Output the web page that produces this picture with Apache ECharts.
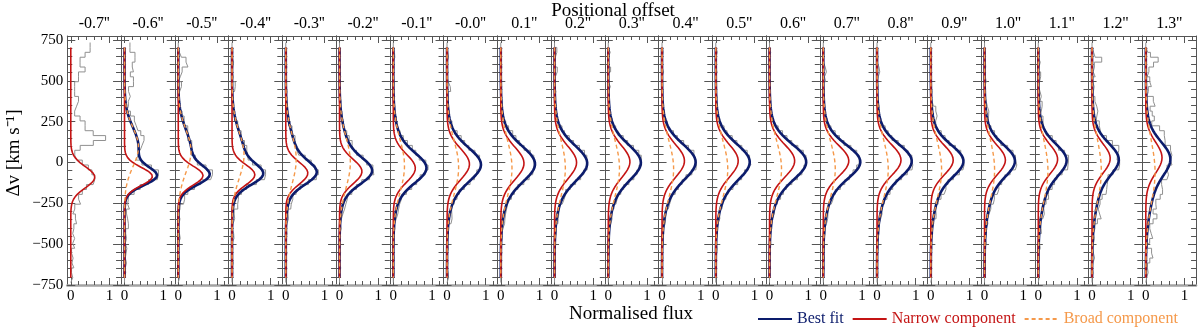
<!DOCTYPE html>
<html>
<head>
<meta charset="utf-8">
<script src="https://cdn.jsdelivr.net/npm/echarts@6/dist/echarts.min.js"></script>
<style>
  html, body { margin: 0; background: #fff; }
  #chart { width: 1200px; height: 332px; }
</style>
</head>
<body>
<div id="chart"></div>
<script>
// positional offsets (panel labels)
const offsets = ['-0.7', '-0.6', '-0.5', '-0.4', '-0.3', '-0.2', '-0.1', '-0.0', '0.1', '0.2', '0.3',
                 '0.4', '0.5', '0.6', '0.7', '0.8', '0.9', '1.0', '1.1', '1.2', '1.3'];

// gaussian components: amplitude (flux), centre and sigma (km/s)
const narrowAmp = [0.62, 0.72, 0.64, 0.59, 0.57, 0.58, 0.57, 0.58, 0.60, 0.57, 0.56, 0.58, 0.58, 0.65, 0.66, 0.62, 0.58, 0.54, 0.50, 0.47, 0.42];
const narrowCen = [-90, -85, -80, -75, -65, -55, -35, -10, -5, 0, 5, 10, 10, 10, 10, 15, 15, 15, 20, 25, 30];
const narrowSig = [65, 55, 58, 62, 68, 75, 85, 95, 100, 100, 100, 100, 100, 100, 95, 95, 90, 90, 90, 90, 95];
const broadAmp = [0, 0.36, 0.33, 0.31, 0.27, 0.28, 0.29, 0.30, 0.29, 0.28, 0.29, 0.30, 0.31, 0.31, 0.31, 0.29, 0.28, 0.26, 0.25, 0.24, 0.24];
const broadCen = [0, 95, 70, 45, 20, 0, -20, -30, -35, -35, -35, -40, -40, -40, -40, -40, -45, -45, -50, -50, -60];
const broadSig = [100, 120, 130, 140, 150, 155, 160, 165, 170, 170, 170, 170, 170, 170, 170, 175, 175, 180, 180, 185, 190];

// histogram bins (30 km/s wide) and the data minus best fit in each bin, in 0.01 flux
const binCentres = [720, 690, 660, 630, 600, 570, 540, 510, 480, 450, 420, 390, 360, 330, 300, 270, 240, 210, 180, 150,
                    120, 90, 60, 30, 0, -30, -60, -90, -120, -150, -180, -210, -240, -270, -300, -330, -360, -390, -420, -450,
                    -480, -510, -540, -570, -600, -630, -660, -690, -720];
const residuals = [
  '50 50 37 24 24 37 20 20 10 10 10 20 15 10 10 24 37 37 58 90 58 23 6 4 6 5 -1 0 2 0 6 9 21 9 5 12 15 8 5 10 5 10 2 6 3 8 2 5 0',
  '14 14 27 27 20 23 15 23 23 10 14 8 7 0 7 13 13 12 14 18 10 4 -2 -9 -3 5 7 2 -4 0 6 3 6 12 5 8 10 10 3 5 2 6 4 2 5 2 3 0 0',
  '0 3 8 20 25 10 5 0 8 3 0 2 0 -2 3 5 2 6 3 -3 4 0 -3 2 -4 3 8 5 -4 3 5 8 10 3 0 4 2 0 3 5 0 2 0 3 0 2 0 3 0',
  '0 2 0 4 2 0 3 0 8 6 0 2 0 3 0 -2 3 0 4 2 5 7 4 -3 -5 3 6 7 2 -3 2 5 9 12 4 6 2 0 4 5 0 2 0 0 3 0 2 0 0',
  '0 0 2 0 3 0 0 2 0 3 0 0 2 0 3 0 -2 4 2 5 3 0 -3 2 3 0 4 5 0 -3 2 4 6 8 3 5 2 0 3 0 2 0 3 0 0 2 0 0 0',
  '0 2 0 0 2 0 3 0 0 2 0 3 0 -2 2 3 0 2 4 6 8 5 0 3 -2 4 5 2 -3 0 3 2 5 6 4 2 0 3 0 2 0 0 2 0 0 3 0 0 0',
  '0 3 4 0 2 0 0 2 0 0 3 0 2 0 -2 2 3 0 2 4 6 7 2 -3 3 4 0 -3 2 4 3 0 2 4 5 3 0 2 0 0 2 0 0 2 0 0 2 0 0',
  '0 2 4 0 0 2 0 3 8 9 2 0 0 2 0 0 3 2 5 6 3 0 2 3 2 -2 -3 2 4 2 0 3 2 0 4 7 6 0 2 0 0 3 0 0 2 0 3 4 0',
  '0 2 0 0 3 0 0 0 2 0 0 2 0 0 2 0 2 4 7 5 2 0 3 2 -2 -3 2 4 3 0 2 3 0 2 3 4 5 2 0 2 0 0 2 0 0 0 2 0 0',
  '0 6 2 0 0 7 2 0 0 3 0 0 2 0 0 2 0 3 2 4 3 5 6 3 -2 2 0 3 2 0 -2 2 3 0 2 3 4 0 2 0 0 2 0 0 0 2 0 0 0',
  '0 5 0 0 0 6 0 0 5 0 0 2 0 0 0 2 0 2 0 3 2 4 6 4 2 -2 0 3 2 0 2 0 3 2 0 3 2 0 0 2 0 0 2 0 0 0 2 0 0',
  '0 3 0 0 0 4 0 0 0 2 0 0 0 2 0 0 2 0 3 2 5 4 6 3 2 4 2 -2 0 2 3 0 2 3 0 2 3 0 2 0 3 0 0 2 0 0 0 2 0',
  '0 4 0 0 0 3 0 0 0 0 2 0 0 0 2 0 0 3 2 4 3 2 4 2 3 0 -2 2 4 3 0 2 0 2 0 3 0 0 2 0 0 3 2 0 0 0 0 0 0',
  '0 3 0 0 0 0 2 0 0 0 0 2 0 0 0 2 0 3 5 4 2 3 4 2 0 -2 2 3 2 0 3 4 2 0 2 0 0 2 0 0 2 0 0 0 0 2 0 0 0',
  '0 2 0 0 5 8 3 6 0 2 0 0 0 2 0 0 0 2 4 3 0 2 3 0 -3 -5 -4 0 2 3 0 2 3 0 2 4 3 0 2 0 0 2 0 3 0 2 0 0 0',
  '0 0 2 0 5 7 3 0 2 0 0 0 3 0 2 0 0 3 2 0 2 3 0 2 3 6 4 2 0 3 5 4 2 0 3 2 0 0 2 0 0 2 0 0 0 0 2 0 0',
  '0 0 2 0 0 0 2 0 0 3 0 2 5 10 12 6 3 2 4 3 0 2 3 0 2 4 5 2 0 5 8 6 3 0 4 6 2 0 2 0 0 2 0 0 0 0 0 2 0',
  '0 0 0 2 3 0 2 4 0 2 0 3 5 8 6 3 0 2 4 0 -2 2 4 3 5 6 2 0 3 5 8 6 7 4 2 0 3 0 2 0 3 0 2 0 0 2 0 0 0',
  '0 3 0 5 2 0 6 3 0 4 7 3 8 5 0 6 4 2 0 5 3 -3 2 6 4 8 3 0 4 6 3 8 5 2 6 4 0 3 5 0 2 4 0 2 0 3 0 2 0',
  '0 4 8 25 6 3 8 2 5 3 0 6 10 12 8 4 9 7 3 6 10 15 2 -4 3 6 0 -3 4 10 14 8 6 4 10 16 8 3 0 4 2 0 3 6 2 0 3 0 0',
  '0 5 12 32 20 8 3 10 14 6 2 18 22 8 12 15 5 20 25 18 8 12 8 0 5 -3 8 12 6 15 20 18 10 14 8 20 12 5 10 15 8 3 14 18 10 4 6 2 0'
];

// axis extents and tick positions
const fluxMin = -0.09, fluxMax = 1.3;
const velMin = -750, velMax = 775;
const fluxMajor = [0, 1];
const fluxMinor = [0, 0.2, 0.4, 0.6, 0.8, 1, 1.2];
const velMajor = [-750, -500, -250, 0, 250, 500, 750];
const velMinor = [-750, -700, -650, -600, -550, -500, -450, -400, -350, -300, -250, -200, -150, -100, -50, 0,
                  50, 100, 150, 200, 250, 300, 350, 400, 450, 500, 550, 600, 650, 700, 750];

const font = 'Liberation Serif';
const frame = '#555';
const colBest = '#0c1c6c', colNarrow = '#c41414', colBroad = '#f5994a', colHist = '#909090';

const gauss = (a, c, s, v) => a * Math.exp(-0.5 * ((v - c) / s) ** 2);

const chart = echarts.init(document.getElementById('chart'));

const grids = [], xAxes = [], yAxes = [], series = [];
const curveV = [];
for (let v = 705; v >= -705; v -= 5) curveV.push(v);

function xAxis(i, pos, ticks, len, extra) {
  return Object.assign({
    type: 'value', gridIndex: i, position: pos, min: fluxMin, max: fluxMax,
    splitLine: { show: false },
    axisLine: { show: false, onZero: false },
    axisTick: { show: true, inside: true, length: len, customValues: ticks, lineStyle: { color: frame, width: 1 } },
    axisLabel: { show: false }
  }, extra || {});
}
function yAxis(i, pos, ticks, len, extra) {
  return Object.assign({
    type: 'value', gridIndex: i, position: pos, min: velMin, max: velMax,
    splitLine: { show: false },
    axisLine: { show: false, onZero: false },
    axisTick: { show: true, inside: true, length: len, customValues: ticks, lineStyle: { color: frame, width: 1 } },
    axisLabel: { show: false }
  }, extra || {});
}

offsets.forEach((off, i) => {
  grids.push({ left: 67.3 + i * 53.75, top: 36, width: 53.75, height: 249 });

  xAxes.push(xAxis(i, 'bottom', fluxMajor, 7, {
    axisLine: { show: true, onZero: false, lineStyle: { color: '#a3a3a3', width: 2.5 } },
    axisLabel: { show: true, customValues: fluxMajor, margin: 4, color: '#000', fontFamily: font, fontSize: 15,
                 formatter: v => String(v) }
  }));
  xAxes.push(xAxis(i, 'bottom', fluxMinor, 4));
  xAxes.push(xAxis(i, 'top', fluxMajor, 7, {
    axisLine: { show: true, onZero: false, lineStyle: { color: frame, width: 1 } },
    name: off + "''", nameLocation: 'middle', nameGap: 4,
    nameTextStyle: { color: '#000', fontFamily: font, fontSize: 16 }
  }));
  xAxes.push(xAxis(i, 'top', fluxMinor, 4));

  yAxes.push(yAxis(i, 'left', velMajor, 8, {
    axisLine: { show: true, onZero: false, lineStyle: { color: frame, width: 1 } },
    axisLabel: { show: i === 0, customValues: velMajor, margin: 4, color: '#000', fontFamily: font, fontSize: 15,
                 formatter: v => (v < 0 ? '\u2212' + (-v) : String(v)) }
  }));
  yAxes.push(yAxis(i, 'left', velMinor, 5));
  yAxes.push(yAxis(i, 'right', velMajor, 8, {
    axisLine: { show: true, onZero: false, lineStyle: { color: frame, width: 1 } }
  }));
  yAxes.push(yAxis(i, 'right', velMinor, 5));

  const narrow = v => gauss(narrowAmp[i], narrowCen[i], narrowSig[i], v);
  const broad = v => gauss(broadAmp[i], broadCen[i], broadSig[i], v);
  const best = v => narrow(v) + broad(v);

  // histogram drawn as a vertical step line
  const res = residuals[i].trim().split(/\s+/).map(Number);
  const steps = [];
  binCentres.forEach((v, k) => {
    const f = Math.max(0, best(v) + res[k] / 100);
    steps.push([f, v + 15], [f, v - 15]);
  });

  const base = { type: 'line', xAxisIndex: 4 * i, yAxisIndex: 4 * i, symbol: 'none', showSymbol: false,
                 silent: true, animation: false, emphasis: { disabled: true } };

  series.push(Object.assign({}, base, {
    name: 'data', data: steps, z: 1, lineStyle: { color: colHist, width: 1 }
  }));
  if (broadAmp[i] > 0) {
    series.push(Object.assign({}, base, {
      name: 'Best fit', data: curveV.map(v => [best(v), v]), z: 2,
      lineStyle: { color: colBest, width: 2.6 }, itemStyle: { color: colBest }
    }));
  }
  series.push(Object.assign({}, base, {
    name: 'Narrow component', data: curveV.map(v => [narrow(v), v]), z: 3,
    lineStyle: { color: colNarrow, width: 1.6 }, itemStyle: { color: colNarrow }
  }));
  if (broadAmp[i] > 0) {
    series.push(Object.assign({}, base, {
      name: 'Broad component', data: curveV.map(v => [broad(v), v]), z: 4,
      lineStyle: { color: colBroad, width: 1.4, type: [4, 3] }, itemStyle: { color: colBroad }
    }));
  }
});

const option = {
  animation: false,
  backgroundColor: '#fff',
  grid: grids,
  xAxis: xAxes,
  yAxis: yAxes,
  series: series,
  legend: {
    left: 752, top: 306, itemWidth: 34, itemHeight: 14, itemGap: 8,
    itemStyle: { opacity: 0 },
    textStyle: { fontFamily: font, fontSize: 16 },
    selectedMode: false,
    data: [
      { name: 'Best fit', textStyle: { color: colBest } },
      { name: 'Narrow component', textStyle: { color: colNarrow } },
      { name: 'Broad component', textStyle: { color: colBroad } }
    ]
  },
  graphic: [
    { type: 'text', x: 613, y: 11, silent: true,
      style: { text: 'Positional offset', textAlign: 'center', textVerticalAlign: 'middle',
               fontFamily: font, fontSize: 19, fill: '#000' } },
    { type: 'text', x: 631, y: 314, silent: true,
      style: { text: 'Normalised flux', textAlign: 'center', textVerticalAlign: 'middle',
               fontFamily: font, fontSize: 19, fill: '#000' } },
    { type: 'text', x: 14, y: 153, rotation: Math.PI / 2, silent: true,
      style: { text: '\u0394v [km s\u207B\u00B9]', textAlign: 'center', textVerticalAlign: 'middle',
               fontFamily: font, fontSize: 19, fill: '#000' } }
  ]
};

chart.setOption(option);
window.addEventListener('resize', () => chart.resize());
</script>
</body>
</html>
